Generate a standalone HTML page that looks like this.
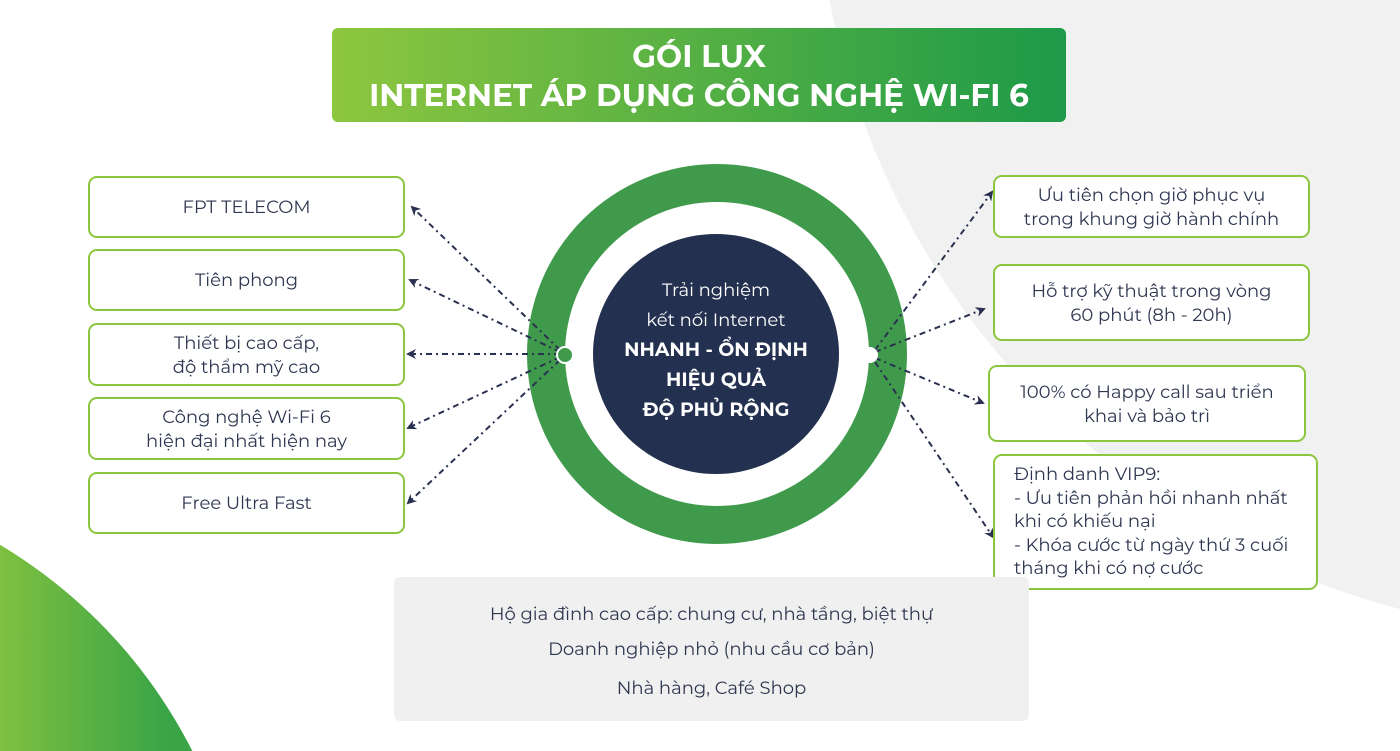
<!DOCTYPE html>
<html><head><meta charset="utf-8"><style>
html,body{margin:0;padding:0;width:1400px;height:751px;overflow:hidden}
body{background:#fff;font-family:"Montserrat","Liberation Sans","DejaVu Sans",sans-serif;color:#2e3650}
#w{position:relative;width:1400px;height:751px;overflow:hidden}
.abs{position:absolute}
.box{position:absolute;border:2px solid #8cc63f;border-radius:9px;background:#fff;display:flex;align-items:center;justify-content:center;text-align:center;font-size:18px;line-height:24px;box-sizing:border-box}
.title{position:absolute;left:332px;top:28px;width:734px;height:94px;border-radius:6px;background:linear-gradient(90deg,#8dc63f,#1d9a48);color:#fff;font-weight:bold;font-size:31px;line-height:39px;text-align:center;padding-top:9px;box-sizing:border-box}
</style></head><body><div id="w">
<div class="abs" style="left:815px;top:-935px;width:1570px;height:1570px;border-radius:50%;background:#f1f1f1"></div>
<div class="abs" style="left:-767px;top:473px;width:1014px;height:1014px;border-radius:50%;background:linear-gradient(90deg,#8dc63f 72%,#3aa546 92%)"></div>
<div class="title">GÓI LUX<br>INTERNET ÁP DỤNG CÔNG NGHỆ WI-FI 6</div>

<div class="abs" style="left:527px;top:164px;width:380px;height:380px;border-radius:50%;background:#3f9b4b"></div>
<div class="abs" style="left:565px;top:202px;width:304px;height:304px;border-radius:50%;background:#fff"></div>
<div class="abs" style="left:593px;top:234px;width:246px;height:240px;border-radius:50%;background:#23304f;color:#fff;text-align:center;font-size:18px;line-height:30px;padding-top:41px;box-sizing:border-box">Trải nghiệm<br>kết nối Internet<br><b style="font-size:19px">NHANH - ỔN ĐỊNH<br>HIỆU QUẢ<br>ĐỘ PHỦ RỘNG</b></div>

<svg class="abs" style="left:0;top:0" width="1400" height="751">
<defs><marker id="a" markerWidth="10" markerHeight="10" refX="8" refY="5" orient="auto" markerUnits="userSpaceOnUse"><path d="M0,0 L10,5 L0,10 L3,5z" fill="#2a3150"/></marker></defs>
<g stroke="#2a3150" stroke-width="2" stroke-dasharray="6,4,2,4" fill="none" marker-end="url(#a)">
<line x1="560" y1="350" x2="412" y2="207"/>
<line x1="560" y1="352" x2="410" y2="280"/>
<line x1="560" y1="354" x2="408" y2="354"/>
<line x1="560" y1="357" x2="408" y2="428"/>
<line x1="560" y1="360" x2="408" y2="503"/>
<line x1="875" y1="350" x2="992" y2="192"/>
<line x1="875" y1="352" x2="984" y2="309"/>
<line x1="875" y1="358" x2="983" y2="403"/>
<line x1="875" y1="362" x2="993" y2="537"/>
</g>
<circle cx="565" cy="355" r="8" fill="#3f9b4b" stroke="#fff" stroke-width="2"/>
<circle cx="870" cy="355" r="8" fill="#fff"/>
</svg>

<div class="box" style="left:88px;top:176px;width:317px;height:62px">FPT TELECOM</div>
<div class="box" style="left:88px;top:249px;width:317px;height:62px">Tiên phong</div>
<div class="box" style="left:88px;top:323px;width:317px;height:63px">Thiết bị cao cấp,<br>độ thẩm mỹ cao</div>
<div class="box" style="left:88px;top:397px;width:317px;height:63px">Công nghệ Wi-Fi 6<br>hiện đại nhất hiện nay</div>
<div class="box" style="left:88px;top:472px;width:317px;height:62px">Free Ultra Fast</div>

<div class="box" style="left:993px;top:175px;width:317px;height:63px">Ưu tiên chọn giờ phục vụ<br>trong khung giờ hành chính</div>
<div class="box" style="left:993px;top:264px;width:317px;height:77px">Hỗ trợ kỹ thuật trong vòng<br>60 phút (8h - 20h)</div>
<div class="box" style="left:988px;top:365px;width:318px;height:77px">100% có Happy call sau triển<br>khai và bảo trì</div>
<div class="box" style="left:993px;top:454px;width:325px;height:136px;justify-content:flex-start;text-align:left;padding-left:19px;line-height:23.5px">Định danh VIP9:<br>- Ưu tiên phản hồi nhanh nhất<br>khi có khiếu nại<br>- Khóa cước từ ngày thứ 3 cuối<br>tháng khi có nợ cước</div>

<div class="abs" style="left:394px;top:577px;width:635px;height:144px;background:#f0f0f0;border-radius:6px;text-align:center;font-size:18px">
<div class="abs" style="left:0;right:0;top:26px">Hộ gia đình cao cấp: chung cư, nhà tầng, biệt thự</div>
<div class="abs" style="left:0;right:0;top:61px">Doanh nghiệp nhỏ (nhu cầu cơ bản)</div>
<div class="abs" style="left:0;right:0;top:100px">Nhà hàng, Café Shop</div>
</div>
</div></body></html>
